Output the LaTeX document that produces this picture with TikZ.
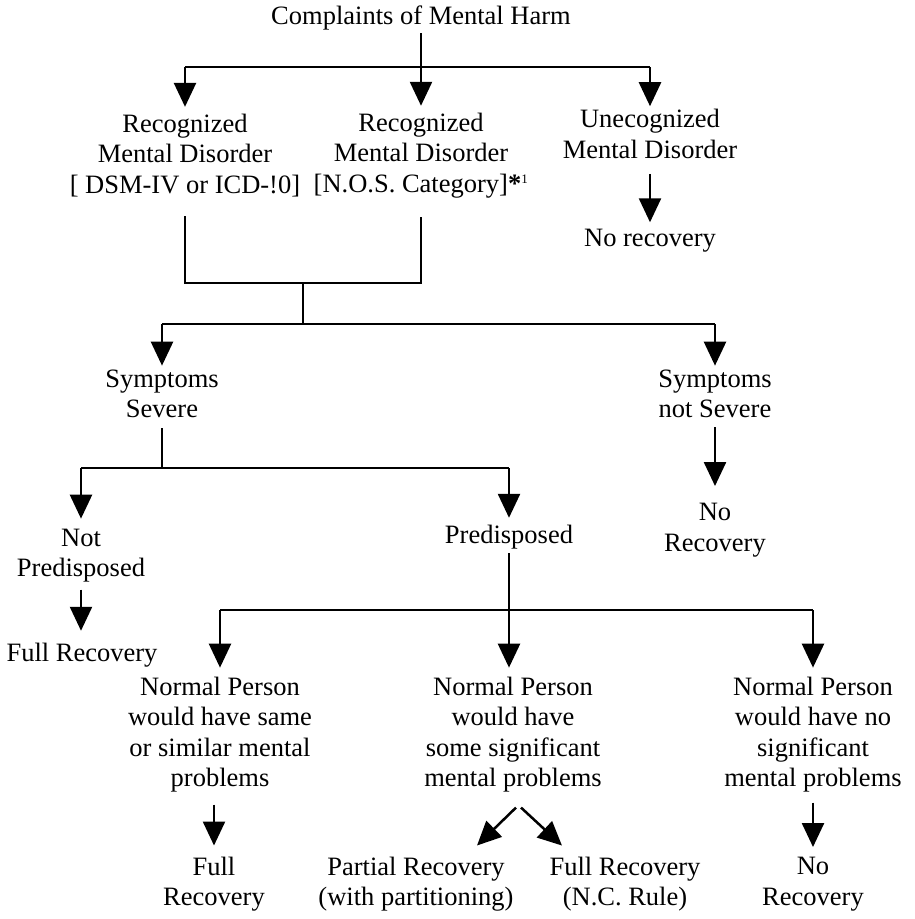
\documentclass[tikz,border=0pt]{standalone}
\usepackage{fontspec}
\setmainfont{Liberation Serif}
\usetikzlibrary{arrows.meta}
\begin{document}
\begin{tikzpicture}[x=1pt,y=-1pt,
  txt/.style={align=center,inner sep=0pt,font=\fontsize{26.5}{30.5}\selectfont},
  ln/.style={line width=2.5pt},
  arr/.style={line width=2.5pt,-{Triangle[width=22pt,length=24pt]}},
]
\useasboundingbox (0,0) rectangle (915,919);
% nodes
\node[txt] (title) at (421,18) {Complaints of Mental Harm};
\node[txt] (rl) at (185,155.5) {Recognized\\Mental Disorder\\{[} DSM-IV or ICD-!0{]}};
\node[txt] (rm) at (421,155.5) {Recognized\\Mental Disorder\\{[}N.O.S. Category{]}\textbf{*}\textsuperscript{\fontsize{13}{13}\selectfont 1}};
\node[txt] (ur) at (650,134) {Unecognized\\Mental Disorder};
\node[txt] (nr1) at (650,241) {No recovery};
\node[txt] (ss) at (162,394) {Symptoms\\Severe};
\node[txt] (sn) at (715,394) {Symptoms\\not Severe};
\node[txt] (nr2) at (715,530) {No\\Recovery};
\node[txt] (np) at (81,555.6) {Not\\Predisposed};
\node[txt] (fr1) at (82,655) {Full Recovery};
\node[txt] (pd) at (509,537) {Predisposed};
\node[txt] (n1) at (220,734.6) {Normal Person\\would have same\\or similar mental\\problems};
\node[txt] (n2) at (513,734.6) {Normal Person\\would have\\some significant\\mental problems};
\node[txt] (n3) at (813,734.6) {Normal Person\\would have no\\significant\\mental problems};
\node[txt] (fr2) at (214,884) {Full\\Recovery};
\node[txt] (pr) at (416,884) {Partial Recovery\\(with partitioning)};
\node[txt] (fr3) at (625,884) {Full Recovery\\(N.C. Rule)};
\node[txt] (nr3) at (813,884) {No\\Recovery};
% junction coordinates
\coordinate (j1) at (421,67);
\coordinate (j1l) at (185,67);
\coordinate (j1r) at (650,67);
\coordinate (kl) at (185,283);
\coordinate (km) at (421,283);
\coordinate (k) at (303,283);
\coordinate (j2) at (303,324);
\coordinate (j2l) at (162,324);
\coordinate (j2r) at (715,324);
\coordinate (j3) at (162,468);
\coordinate (j3l) at (81,468);
\coordinate (j3r) at (509,468);
\coordinate (j4) at (509,610);
\coordinate (j4l) at (220,610);
\coordinate (j4r) at (813,610);
% connectors
\draw[ln] ([yshift=-3pt]title.south) -- (j1);
\draw[ln] (j1l) -- (j1r);
\draw[arr] (j1) -- ([yshift=7pt]rm.north);
\draw[arr] (j1l) -- ([yshift=7pt]rl.north);
\draw[arr] (j1r) -- ([yshift=3pt]ur.north);
\draw[arr] ([yshift=-15pt]ur.south) -- ([yshift=7pt]nr1.north);
\draw[ln] ([yshift=-19pt]rl.south) -- (kl) -- (km) -- ([yshift=-19pt]rm.south);
\draw[ln] (k) -- (j2);
\draw[ln] (j2l) -- (j2r);
\draw[arr] (j2l) -- ([yshift=4pt]ss.north);
\draw[arr] (j2r) -- ([yshift=4pt]sn.north);
\draw[arr] ([yshift=-9pt]sn.south) -- ([yshift=17pt]nr2.north);
\draw[ln] ([yshift=-10pt]ss.south) -- (j3);
\draw[ln] (j3l) -- (j3r);
\draw[arr] (j3l) -- ([yshift=10pt]np.north);
\draw[arr] (j3r) -- ([yshift=7pt]pd.north);
\draw[arr] ([yshift=-7pt]np.south) -- ([yshift=12pt]fr1.north -| np.south);
\draw[ln] ([yshift=-4pt]pd.south) -- (j4);
\draw[ln] (j4l) -- (j4r);
\draw[arr] (j4l) -- ([yshift=9pt]n1.north);
\draw[arr] (j4) -- ([yshift=9pt]n2.north -| j4);
\draw[arr] (j4r) -- ([yshift=9pt]n3.north);
\draw[arr] ([yshift=-12pt]n1.south -| fr2.north) -- ([yshift=11pt]fr2.north);
\draw[arr] ([yshift=-10pt]n3.south) -- ([yshift=10pt]nr3.north);
\draw[arr] ([xshift=3pt,yshift=-15pt]n2.south) -- ([xshift=61pt,yshift=11pt]pr.north);
\draw[arr] ([xshift=8pt,yshift=-15pt]n2.south) -- ([xshift=-63pt,yshift=11pt]fr3.north);
\end{tikzpicture}
\end{document}
